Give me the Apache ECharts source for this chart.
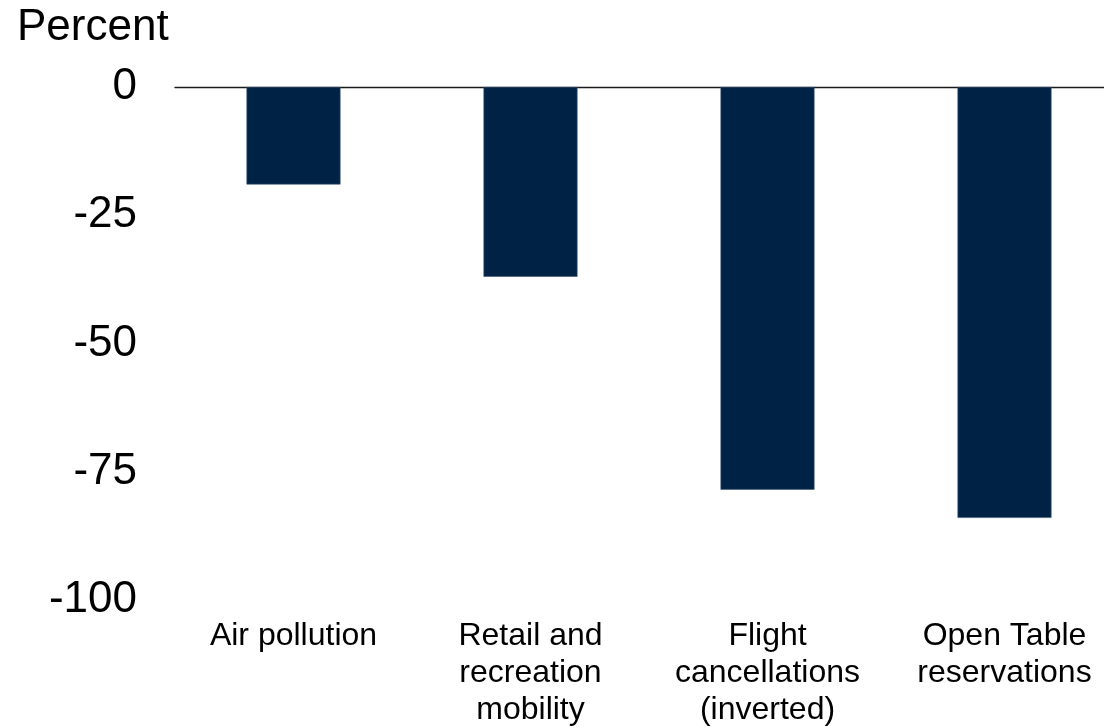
<!DOCTYPE html>
<html>
<head>
<meta charset="utf-8">
<script src="https://cdn.jsdelivr.net/npm/echarts@6/dist/echarts.min.js"></script>
<style>
  html, body { margin: 0; padding: 0; background: #fff; }
  #chart { width: 1104px; height: 728px; }
</style>
</head>
<body>
<div id="chart"></div>
<script>
// Change in activity indicators, percent
const categories = [
  'Air pollution',
  'Retail and\nrecreation\nmobility',
  'Flight\ncancellations\n(inverted)',
  'Open Table\nreservations'
];
const values = [-19, -37, -78.5, -84];
const yTicks = { min: -100, max: 0, interval: 25 };

const FONT = '"Liberation Sans", Arial, sans-serif';
const chart = echarts.init(document.getElementById('chart'));

chart.setOption({
  animation: false,
  backgroundColor: '#ffffff',
  graphic: [{
    type: 'text',
    left: 17,
    top: 6,
    style: { text: 'Percent', font: '44px ' + FONT, fill: '#000' }
  }],
  // plot area runs slightly past the right edge of the canvas
  grid: {
    left: 175, width: 948, top: 87, bottom: 128,
    containLabel: false, outerBoundsMode: 'none'
  },
  xAxis: [
    {
      type: 'category',
      data: categories,
      position: 'bottom',
      axisLine: { show: false, onZero: false },
      axisTick: { show: false },
      axisLabel: {
        color: '#000', fontFamily: FONT, fontSize: 32, lineHeight: 37,
        margin: 18, interval: 0, align: 'center', verticalAlign: 'top'
      }
    },
    {
      type: 'category',
      data: categories,
      position: 'top',
      axisLine: { show: true, onZero: false, lineStyle: { color: '#1a1a1a', width: 1.3 } },
      axisTick: { show: false },
      axisLabel: { show: false }
    }
  ],
  yAxis: {
    type: 'value',
    min: yTicks.min,
    max: yTicks.max,
    interval: yTicks.interval,
    axisLine: { show: false },
    axisTick: { show: false },
    splitLine: { show: false },
    axisLabel: { color: '#000', fontFamily: FONT, fontSize: 44, margin: 38 }
  },
  series: [{
    type: 'bar',
    data: values,
    xAxisIndex: 0,
    barWidth: 94,
    itemStyle: { color: '#002345', borderColor: '#3a5575', borderWidth: 0.6 }
  }]
});
</script>
</body>
</html>
